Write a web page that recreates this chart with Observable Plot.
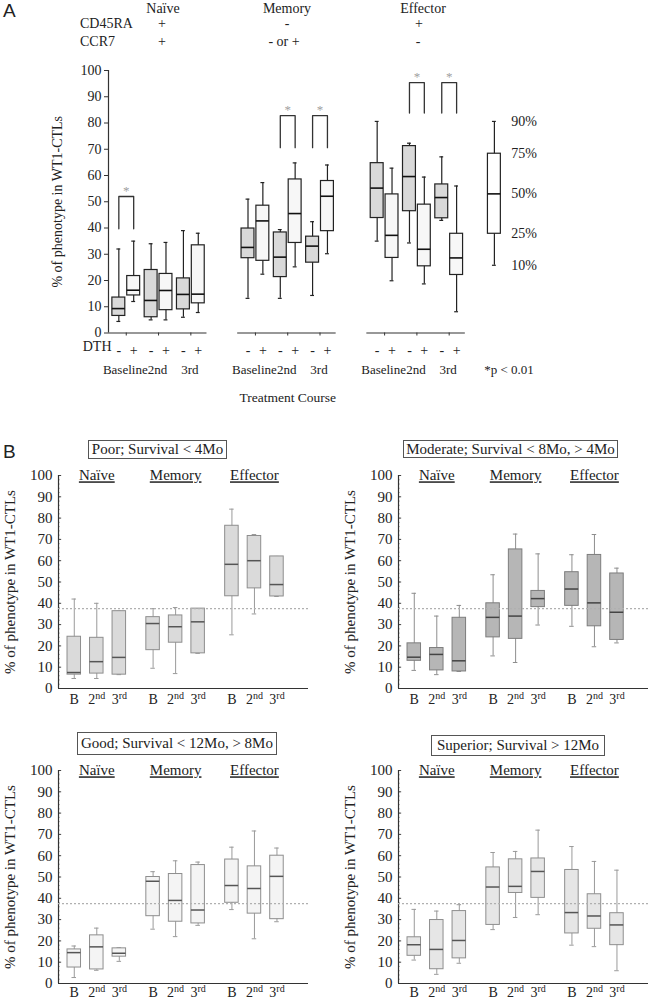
<!DOCTYPE html>
<html><head><meta charset="utf-8">
<script src="https://cdn.jsdelivr.net/npm/d3@7"></script>
<script src="https://cdn.jsdelivr.net/npm/@observablehq/plot@0.6"></script>
<style>
body{margin:0;background:#fff;}
#root{position:relative;width:656px;height:1000px;font-family:"Liberation Serif","DejaVu Serif","Times New Roman",serif;color:#222;overflow:hidden;}
.abs{position:absolute;white-space:nowrap;font-size:14px;line-height:16px;}
.c{transform:translateX(-50%);}
.panel{position:absolute;}
.letter{position:absolute;font-family:"Liberation Sans",Arial,sans-serif;font-size:19px;color:#222;}
.tbox{position:absolute;border:1px solid #555;font-size:15px;text-align:center;box-sizing:border-box;white-space:nowrap;}
svg text{font-family:"Liberation Serif","DejaVu Serif","Times New Roman",serif;}
</style></head><body><div id="root"></div>
<script>
// ---------------- DATA ----------------
// Panel A: [10th, 25th, median, 75th, 90th] per box, order: Baseline -, Baseline +, 2nd -, 2nd +, 3rd -, 3rd +
const groupsA = ["Naïve", "Memory", "Effector"];
const coursesA = ["Baseline", "2nd", "3rd"];
const dthA = ["-", "+"];
const naiveA = [[4.4,6.5,9.3,13.5,32],[12,14.3,16.3,21.7,35],[5,6,12.4,24,34],[5,8.7,16.2,22.5,34.5],[6,9,14.7,20.8,39],[7.8,11.3,14.8,33.4,38]];
const memoryA = [[13.2,28.5,32.6,39.8,51],[22.4,27.5,42.7,48.5,57.3],[13.2,21.3,28.9,38.3,39.4],[25.2,34.3,45.5,58.5,64.8],[14.3,26.8,33.1,36.7,42.4],[30.2,38.8,52.1,57.9,64]];
const effectorA = [[35,43.8,55.2,64.7,80.6],[19.9,28.6,37.2,52.8,62.8],[34.3,46.4,59.6,71.2,72.3],[18.7,25.4,31.9,48.9,59.4],[42.9,43.7,51.6,56.6,67.1],[8.1,22.1,28.6,37.8,56]];
const legendA = [25.8, 37.8, 53, 68.3, 80.6];
const legendLabelsA = ["10%", "25%", "50%", "75%", "90%"];
const sigA = [
  {group: "Naïve", course: "Baseline", bottom: 39.7, top: 52},
  {group: "Memory", course: "2nd", bottom: 70.6, top: 82.8},
  {group: "Memory", course: "3rd", bottom: 70.6, top: 82.8},
  {group: "Effector", course: "2nd", bottom: 83.8, top: 95.4},
  {group: "Effector", course: "3rd", bottom: 83.8, top: 95.4}
];
const ticksY = [0,10,20,30,40,50,60,70,80,90,100];
const yLabel = "% of phenotype in WT1-CTLs";

// Panel B: [lo, q1, median, q3, hi], order Naïve B/2nd/3rd, Memory B/2nd/3rd, Effector B/2nd/3rd
const groupsB = ["Naïve", "Memory", "Effector"];
const coursesB = ["B", "2nd", "3rd"];
const poorB = [[4.7,6.5,7.5,24.3,42],[4.7,7,12.6,23.8,40],[6.5,6.5,14.6,36.3,36.3],[9.5,18,30.5,33.5,37.5],[7,21.5,29,34.3,38],[16.5,16.5,31.3,37.5,37.5],[25.2,43.3,58.3,76.4,84.2],[35,47,60,71.6,72.3],[43.2,43.2,48.8,62,62]];
const moderateB = [[8.5,13,14.7,21.2,44.7],[6.5,8.5,16,19,34],[8,8,13,33.2,39],[15.3,24,33.4,40,53.4],[12.2,23.3,34,65.3,72.5],[29.8,38.2,42.2,45.8,63.2],[29.2,38.8,46.7,54.6,62.8],[19.6,29.2,40.2,62.7,72.3],[21.4,22.8,35.8,54,56.5]];
const goodB = [[2.8,7.5,14.5,16,17.6],[6.2,6.6,17.2,22.6,26],[10.4,12.6,14.2,16.5,16.8],[25.5,31.6,48,50,52.5],[22,29,39,51.4,57.6],[27.3,28.2,34.5,55.6,57],[34.7,37.9,46,58.2,64],[21,32.8,44.6,55,71.6],[29,30.2,50.3,60,63.6]];
const superiorB = [[11,13,18.2,21.7,34.8],[4.3,6.7,16,29.8,34],[9.5,11.8,20.2,34,37],[25.3,27.5,45.3,54.5,61.5],[31,42.5,45.6,58.3,62],[32.3,40.2,52.6,58.7,72],[18,23.5,33.3,53.3,64.3],[17.3,25.7,31.7,41.9,57.3],[6,18,27.5,33,53.2]];
const refLineB = 37.5;
const titlesB = ["Poor; Survival < 4Mo", "Moderate; Survival < 8Mo, > 4Mo", "Good; Survival < 12Mo, > 8Mo", "Superior; Survival  > 12Mo"];

// ---------------- LAYOUT ----------------
const root = document.getElementById("root");
function addDiv(cls, html, css) {
  const d = document.createElement("div");
  d.className = cls; d.innerHTML = html;
  Object.assign(d.style, css);
  root.appendChild(d); return d;
}
const font = "'Liberation Serif', 'DejaVu Serif', 'Times New Roman', serif";
function fixFont(svg) {
  svg.setAttribute("font-family", font);
  svg.style.fontFamily = font;
  return svg;
}

// Panel letters & header table for A
addDiv("letter", "A", {left: "3px", top: "0px"});
addDiv("letter", "B", {left: "3px", top: "441px"});
addDiv("abs c", groupsA[0], {left: "163px", top: "1px"});
addDiv("abs c", groupsA[1], {left: "287px", top: "1px"});
addDiv("abs c", groupsA[2], {left: "423px", top: "1px"});
addDiv("abs", "CD45RA", {left: "80px", top: "16px"});
addDiv("abs", "CCR7", {left: "80px", top: "34px"});
addDiv("abs c", "+", {left: "162px", top: "16px"});
addDiv("abs c", "+", {left: "162px", top: "34px"});
addDiv("abs c", "-", {left: "287px", top: "16px"});
addDiv("abs c", "- or +", {left: "284px", top: "34px"});
addDiv("abs c", "+", {left: "419px", top: "16px"});
addDiv("abs c", "-", {left: "418px", top: "34px"});

// ---------------- PANEL A ----------------
const xDomA = [-0.55, 16.42];
const halfA = 0.2, offA = 0.23, capA = 0.06;
const rowsA = [];
[naiveA, memoryA, effectorA].forEach((arr, gi) => arr.forEach((s, k) => {
  const ci = Math.floor(k / 2), di = k % 2;
  rowsA.push({group: groupsA[gi], course: coursesA[ci], dth: dthA[di], gi, ci,
    pos: gi * 4 + ci + (di ? offA : -offA), lo: s[0], q1: s[1], med: s[2], q3: s[3], hi: s[4]});
}));
const pairsA = [];
groupsA.forEach((g, gi) => coursesA.forEach((c, ci) => pairsA.push({group: g, course: c, pos: gi * 4 + ci})));
const legendX = (groupsA.length - 1) * 4 + 2 + 1.4;
const legendRow = {pos: legendX, lo: legendA[0], q1: legendA[1], med: legendA[2], q3: legendA[3], hi: legendA[4]};
const legendLabelRows = legendA.map((v, i) => ({v, t: legendLabelsA[i]}));
const bracketPts = [];
sigA.forEach((s, i) => {
  const gi = groupsA.indexOf(s.group), ci = coursesA.indexOf(s.course);
  const xl = gi * 4 + ci - offA, xr = gi * 4 + ci + offA;
  bracketPts.push({id: i, x: xl, y: s.bottom}, {id: i, x: xl, y: s.top}, {id: i, x: xr, y: s.top}, {id: i, x: xr, y: s.bottom});
  s.pos = gi * 4 + ci;
});
const midA = ((groupsA.length - 1) * 4 + 2) / 2;

function boxMarks(rows, o) {
  return [
    Plot.ruleX(rows, {x: "pos", y1: "lo", y2: "hi", stroke: o.whisker, strokeWidth: o.ww}),
    Plot.ruleY(rows, {y: "lo", x1: d => d.pos - o.cap, x2: d => d.pos + o.cap, stroke: o.whisker, strokeWidth: o.ww}),
    Plot.ruleY(rows, {y: "hi", x1: d => d.pos - o.cap, x2: d => d.pos + o.cap, stroke: o.whisker, strokeWidth: o.ww}),
    Plot.rect(rows, {x1: d => d.pos - o.half, x2: d => d.pos + o.half, y1: "q1", y2: "q3", fill: o.fill, stroke: o.stroke, strokeWidth: o.sw}),
    Plot.ruleY(rows, {y: "med", x1: d => d.pos - o.half, x2: d => d.pos + o.half, stroke: o.median, strokeWidth: o.mw})
  ];
}

const optA = {whisker: "#222", ww: 1.2, cap: capA, half: halfA, stroke: "#222", sw: 1.2, median: "#111", mw: 1.6};
const tA = {fontSize: 14, fontFamily: font};
const plotA = Plot.plot({
  width: 656, height: 357, marginTop: 15, marginBottom: 79.5, marginLeft: 108, marginRight: 0,
  x: {domain: xDomA, axis: null}, y: {domain: [0, 100], axis: null},
  style: {fontFamily: font, fontSize: "14px", color: "#222", background: "transparent", overflow: "visible"},
  marks: [
    Plot.ruleX([xDomA[0]], {y1: 0, y2: 100, stroke: "#333", strokeWidth: 1.2}),
    Plot.axisY(ticksY, {tickSize: 4, tickPadding: 3, ...tA, label: yLabel, labelAnchor: "center", labelOffset: 56, labelArrow: "none", stroke: "#333"}),
    Plot.ruleY(groupsA, {y: 0, x1: (d, i) => i * 4 - 0.55, x2: (d, i) => i * 4 + 2.5, stroke: "#333", strokeWidth: 1.2}),
    Plot.axisX(pairsA.map(d => d.pos), {tickSize: 3, tickFormat: () => "", label: null, stroke: "#333"}),
    ...boxMarks(rowsA.filter(d => d.dth === "-"), {...optA, fill: "#d9d9d9"}),
    ...boxMarks(rowsA.filter(d => d.dth === "+"), {...optA, fill: "#f7f7f7"}),
    ...boxMarks([legendRow], {...optA, fill: "#ffffff"}),
    Plot.text(legendLabelRows, {x: legendX + 0.52, y: "v", text: "t", textAnchor: "start", ...tA}),
    Plot.line(bracketPts, {x: "x", y: "y", z: "id", stroke: "#333", strokeWidth: 1.3}),
    Plot.text(sigA, {x: "pos", y: "top", text: () => "*", dy: -6, fill: "#a0a0a0", fontSize: 13, fontFamily: font}),
    Plot.text(rowsA, {x: "pos", y: 0, text: "dth", dy: 18, ...tA}),
    Plot.text(["DTH"], {frameAnchor: "bottom-left", dy: 18, dx: 3, textAnchor: "end", ...tA}),
    Plot.text(pairsA, {x: "pos", y: 0, text: "course", dy: 37, fontSize: 13, fontFamily: font, dx: -1}),
    Plot.text(["*p < 0.01"], {x: legendX + 0.45, y: 0, dy: 37, fontSize: 13, fontFamily: font}),
    Plot.text(["Treatment Course"], {x: midA, y: 0, dy: 65, fontSize: 13.5, fontFamily: font})
  ]
});
fixFont(plotA);
const pA = document.createElement("div");
pA.className = "panel"; Object.assign(pA.style, {left: "0px", top: "55px"});
pA.appendChild(plotA); root.appendChild(pA);

// ---------------- PANEL B ----------------
const xDomB = [-0.7, 10.4];
function panelB(boxes, o) {
  const rows = boxes.map((s, k) => ({group: groupsB[Math.floor(k / 3)], course: coursesB[k % 3],
    pos: Math.floor(k / 3) * 3.5 + (k % 3), lo: s[0], q1: s[1], med: s[2], q3: s[3], hi: s[4]}));
  const heads = groupsB.map((g, i) => ({g, pos: i * 3.5 + 1}));
  const minor = d3.range(0, 101, 2);
  const svg = Plot.plot({
    width: 58 + 250 + 8, height: o.height, marginTop: o.mt, marginBottom: o.height - o.mt - 213, marginLeft: 58, marginRight: 8,
    x: {domain: xDomB, axis: null}, y: {domain: [0, 100], axis: null},
    style: {fontFamily: font, fontSize: "15px", color: "#222", background: "transparent", overflow: "visible"},
    marks: [
      Plot.axisY(ticksY, {tickSize: 0, tickPadding: 6, fontSize: 15, fontFamily: font, label: yLabel, labelAnchor: "center", labelOffset: 54, labelArrow: "none"}),
      Plot.ruleY(minor, {y: d => d, x1: xDomB[0], x2: xDomB[0] + 0.07, stroke: "#666", strokeWidth: 0.8}),
      Plot.ruleY(ticksY, {y: d => d, x1: xDomB[0], x2: xDomB[0] + 0.14, stroke: "#444", strokeWidth: 1}),
      ...boxMarks(rows, {whisker: o.whisker, ww: 1, cap: 0.1, half: 0.3, fill: o.fill, stroke: o.stroke, sw: 1, median: o.median, mw: 1.5}),
      Plot.ruleX([xDomB[0]], {y1: 0, y2: 100, stroke: "#333", strokeWidth: 1.2}),
      Plot.ruleY([0], {stroke: "#333", strokeWidth: 1.2}),
      Plot.ruleY([refLineB], {stroke: "#b0b0b0", strokeDasharray: "2,2", strokeWidth: 1.2}),
      Plot.text(heads, {x: "pos", y: 100, text: "g", fontSize: 15, fontFamily: font}),
      Plot.text(rows, {x: "pos", y: 0, text: "course", dy: o.ldy, fontSize: 14, fontFamily: font})
    ]
  });
  fixFont(svg);
  svg.querySelectorAll("text").forEach(t => {
    const s = t.textContent;
    if (groupsB.includes(s)) t.setAttribute("text-decoration", "underline");
    const m = /^(\d)(nd|rd|st|th)$/.exec(s);
    if (m) {
      t.textContent = m[1];
      const ts = document.createElementNS("http://www.w3.org/2000/svg", "tspan");
      ts.setAttribute("dy", "-5"); ts.setAttribute("font-size", "10");
      ts.textContent = m[2];
      t.appendChild(ts);
    }
  });
  return svg;
}
const specsB = [
  {data: poorB, left: 0, top: 460, height: 250, mt: 15, ldy: 11, fill: "#dadada", stroke: "#8e8e8e", whisker: "#9a9a9a", median: "#555",
   title: {left: 88, top: 440, w: 139, h: 19}},
  {data: moderateB, left: 340, top: 460, height: 250, mt: 15, ldy: 11, fill: "#b6b6b6", stroke: "#7d7d7d", whisker: "#8e8e8e", median: "#444",
   title: {left: 403, top: 440, w: 215, h: 18}},
  {data: goodB, left: 0, top: 757, height: 243, mt: 13, ldy: 9, fill: "#f4f4f4", stroke: "#8e8e8e", whisker: "#9a9a9a", median: "#555",
   title: {left: 77, top: 732, w: 200, h: 23}},
  {data: superiorB, left: 340, top: 757, height: 243, mt: 13, ldy: 9, fill: "#e6e6e6", stroke: "#8e8e8e", whisker: "#9a9a9a", median: "#555",
   title: {left: 431, top: 735, w: 174, h: 21}}
];
specsB.forEach((s, i) => {
  const p = document.createElement("div");
  p.className = "panel"; Object.assign(p.style, {left: s.left + "px", top: s.top + "px"});
  p.appendChild(panelB(s.data, s)); root.appendChild(p);
  addDiv("tbox", titlesB[i], {left: s.title.left + "px", top: s.title.top + "px", width: s.title.w + "px", height: s.title.h + "px", lineHeight: (s.title.h - 2) + "px"});
});
</script></body></html>
